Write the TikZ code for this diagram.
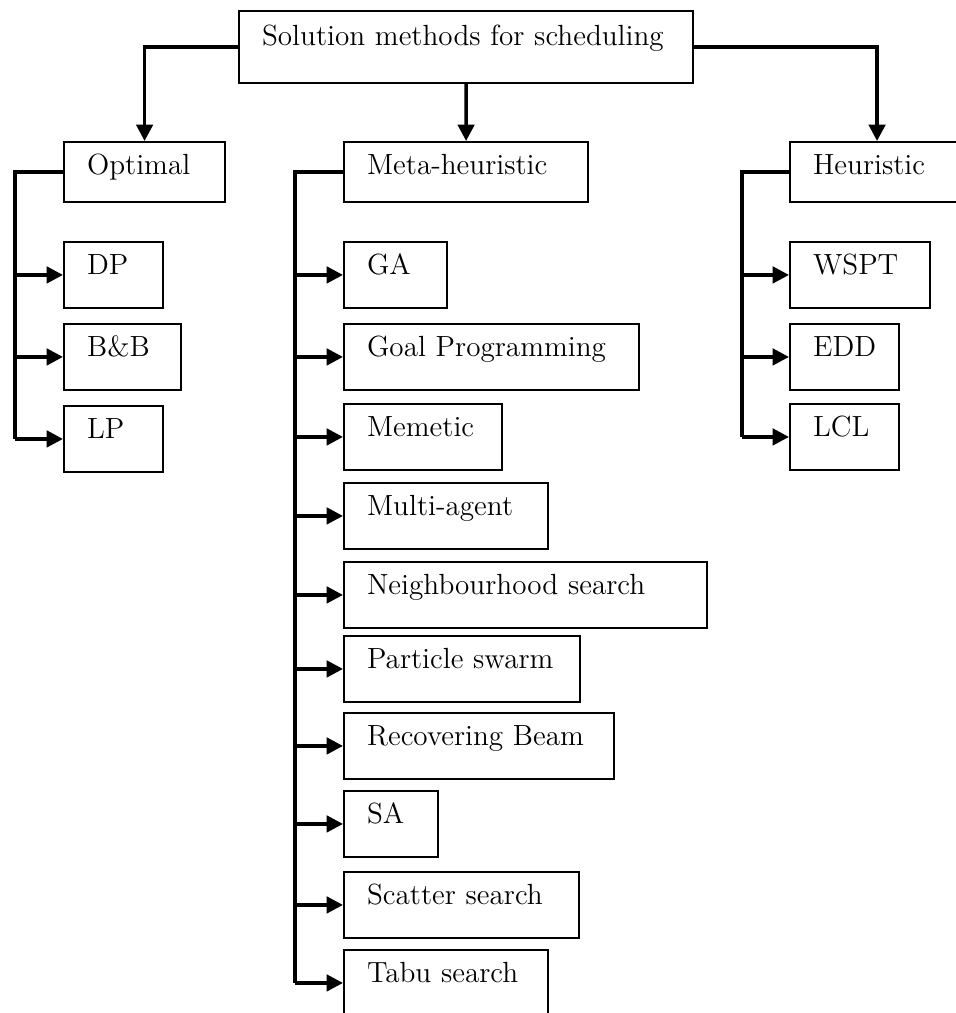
\documentclass[tikz,border=0pt]{standalone}
\usepackage{amsmath}
\usepackage{tikz}
\usetikzlibrary{arrows.meta}

\begin{document}
\begin{tikzpicture}[x=0.425pt, y=-0.425pt]
	\tikzstyle{every node}=[font=\fontsize{12.4}{15}\selectfont]
	\tikzstyle{box}=[draw, line width=0.85pt, anchor=north west, align=left, inner xsep=9.8pt, inner ysep=0pt, text height=14pt, text depth=14pt]
	\tikzstyle{head}=[box, text depth=11.5pt]
	\tikzstyle{rail}=[line width=1.5pt]
	\tikzstyle{link}=[rail, -{Triangle[length=7pt, width=7pt]}]
	\useasboundingbox (0,0) rectangle (956,1013);

	% top and the three families
	\node[box, text width=173.4pt, text height=14.5pt, text depth=16.2pt] (root) at (238,10) {Solution methods for scheduling};
	\node[head, text width=48.9pt] (opt) at (63,141) {Optimal};
	\node[head, text width=84.2pt] (meta) at (343,141) {Meta-heuristic};
	\node[head, text width=54.4pt] (heur) at (789,141) {Heuristic};
	\draw[link] (root.west) -| (opt.north);
	\draw[link] (root.south) -- (meta.north);
	\draw[link] (root.east) -| (heur.north);

	% optimal methods
	\node[box, text width=22.5pt] (dp) at (63,241) {DP};
	\node[box, text width=30.2pt] (bb) at (63,323) {B\&B};
	\node[box, text width=22.5pt] (lp) at (63,405) {LP};
	\coordinate (optrail) at (15,171);
	\draw[rail] (opt.west) -| (optrail |- lp.west);
	\draw[link] (optrail |- dp.west) -- (dp.west);
	\draw[link] (optrail |- bb.west) -- (bb.west);
	\draw[link] (optrail |- lp.west) -- (lp.west);

	% meta-heuristic methods
	\node[box, text width=24.2pt] (ga) at (343,241) {GA};
	\node[box, text width=105.8pt] (goal) at (343,323) {Goal Programming};
	\node[box, text width=47.6pt] (memetic) at (343,403) {Memetic};
	\node[box, text width=67.2pt] (agent) at (343,482) {Multi-agent};
	\node[box, text width=134.7pt] (nbh) at (343,561) {Neighbourhood search};
	\node[box, text width=80.8pt] (pso) at (343,635) {Particle swarm};
	\node[box, text width=95.2pt] (beam) at (343,712) {Recovering Beam};
	\node[box, text width=20.4pt] (sa) at (343,790) {SA};
	\node[box, text width=80.3pt] (scatter) at (343,871) {Scatter search};
	\node[box, text width=67.2pt] (tabu) at (343,949) {Tabu search};
	\coordinate (metarail) at (295,171);
	\draw[rail] (meta.west) -| (metarail |- tabu.west);
	\draw[link] (metarail |- ga.west) -- (ga.west);
	\draw[link] (metarail |- goal.west) -- (goal.west);
	\draw[link] (metarail |- memetic.west) -- (memetic.west);
	\draw[link] (metarail |- agent.west) -- (agent.west);
	\draw[link] (metarail |- nbh.west) -- (nbh.west);
	\draw[link] (metarail |- pso.west) -- (pso.west);
	\draw[link] (metarail |- beam.west) -- (beam.west);
	\draw[link] (metarail |- sa.west) -- (sa.west);
	\draw[link] (metarail |- scatter.west) -- (scatter.west);
	\draw[link] (metarail |- tabu.west) -- (tabu.west);

	% heuristic rules
	\node[box, text width=40pt] (wspt) at (789,241) {WSPT};
	\node[box, text width=26.8pt] (edd) at (789,323) {EDD};
	\node[box, text width=26.8pt] (lcl) at (789,403) {LCL};
	\coordinate (heurrail) at (742,171);
	\draw[rail] (heur.west) -| (heurrail |- lcl.west);
	\draw[link] (heurrail |- wspt.west) -- (wspt.west);
	\draw[link] (heurrail |- edd.west) -- (edd.west);
	\draw[link] (heurrail |- lcl.west) -- (lcl.west);
\end{tikzpicture}
\end{document}
